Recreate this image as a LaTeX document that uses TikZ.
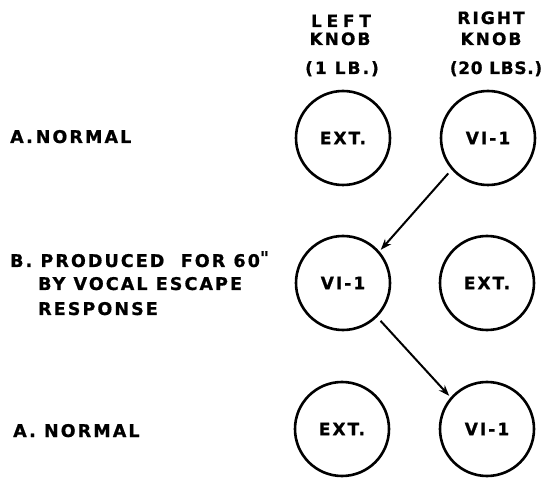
\documentclass[tikz,border=0pt]{standalone}
\usepackage{fontspec}
\setmainfont{DejaVu Sans}
\newfontfamily\labfont{DejaVu Sans Bold}[LetterSpace=12,FakeBold=0.8]
\newfontfamily\widefont{DejaVu Sans Bold}[LetterSpace=28,FakeBold=0.8]
\newfontfamily\tightfont{DejaVu Sans Bold}[LetterSpace=4,FakeBold=0.8]
\usetikzlibrary{arrows.meta}
\tikzset{
  knob/.style={circle,draw,line width=2.6pt,minimum size=94pt,inner sep=0pt,
    font=\labfont\fontsize{17}{20}\selectfont},
  lbl/.style={anchor=base west,inner sep=0pt,font=\labfont\fontsize{17.5}{20}\selectfont},
  hdr/.style={anchor=base,inner sep=0pt,font=\labfont\fontsize{17}{20}\selectfont},
  arr/.style={line width=2pt,-{Stealth[length=11pt,width=8pt]},shorten <=5pt,shorten >=2pt}
}
\begin{document}
\begin{tikzpicture}[x=1pt,y=-1pt]
\useasboundingbox (0,0) rectangle (541,478);
% headers
\node[hdr,font=\widefont\fontsize{17}{20}\selectfont] (hl1) at (341,27) {LEFT};
\node[hdr] (hl2) at (340,45) {KNOB};
\node[hdr] (hl3) at (342,74) {(1 LB.)};
\node[hdr] (hr1) at (491,24) {RIGHT};
\node[hdr] (hr2) at (491,45) {KNOB};
\node[hdr,font=\tightfont\fontsize{17}{20}\selectfont] (hr3) at (496,74) {(20 LBS.)};
% row labels
\node[lbl] (ra) at (10,143) {A.\,NORMAL};
\node[lbl] (rb1) at (10,267) {B. PRODUCED\ \ FOR 60\raisebox{3pt}{\char"22}};
\node[lbl] (rb2) at (38,290) {BY VOCAL ESCAPE};
\node[lbl] (rb3) at (38,315) {RESPONSE};
\node[lbl] (rc) at (13,437) {A. NORMAL};
% knobs
\node[knob] (l1) at (343,138) {EXT.};
\node[knob] (r1) at (488,138) {VI-1};
\node[knob] (l2) at (343,283) {VI-1};
\node[knob] (r2) at (487,283) {EXT.};
\node[knob] (l3) at (342,429) {EXT.};
\node[knob] (r3) at (487,429) {VI-1};
% arrows
\draw[arr] (r1.221) -- (l2.41);
\draw[arr] (l2.315) -- (r3.139);
\end{tikzpicture}
\end{document}
